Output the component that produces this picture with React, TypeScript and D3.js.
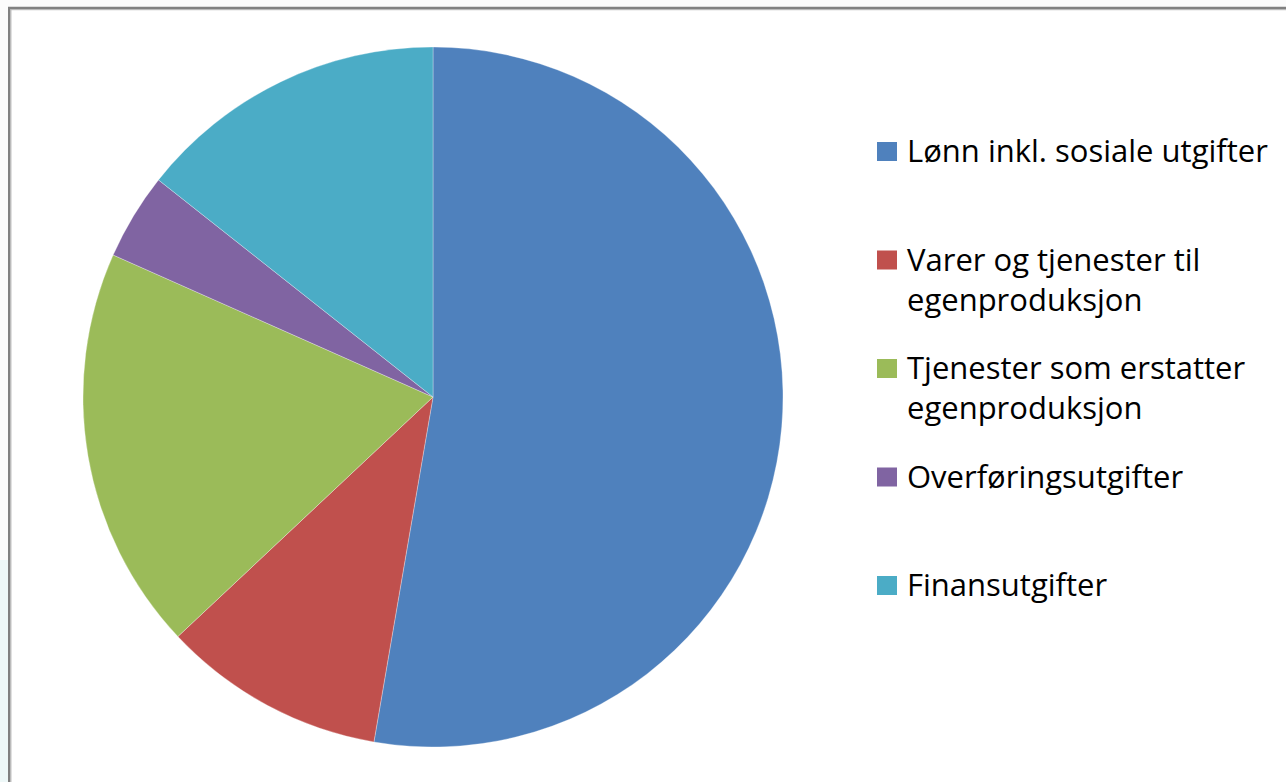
import React from "react";
import * as d3 from "d3";

// share of expenses (percent)
const categories = [
  "Lønn inkl. sosiale utgifter",
  "Varer og tjenester til egenproduksjon",
  "Tjenester som erstatter egenproduksjon",
  "Overføringsutgifter",
  "Finansutgifter"
];
const values = [52.7, 10.3, 18.65, 4.0, 14.35];
// legend text as it wraps in the picture
const legendLines = [
  ["Lønn inkl. sosiale utgifter"],
  ["Varer og tjenester til", "egenproduksjon"],
  ["Tjenester som erstatter", "egenproduksjon"],
  ["Overføringsutgifter"],
  ["Finansutgifter"]
];
const colors = ["#4F81BD", "#C0504D", "#9BBB59", "#8064A2", "#4BACC6"];

const W = 1286;
const H = 782;
const cx = 433;
const cy = 397;
const radius = 350;

export default function App() {
  const pie = d3
    .pie<number>()
    .sort(null)
    .value(d => d);
  const arcs = pie(values);
  const arc = d3
    .arc<d3.PieArcDatum<number>>()
    .innerRadius(0)
    .outerRadius(radius);

  const color = d3.scaleOrdinal<string, string>().domain(categories).range(colors);

  // legend rows (baseline of first line)
  const legendY = d3
    .scaleLinear()
    .domain([0, categories.length - 1])
    .range([162, 596]);
  const lineH = 40;

  return (
    <svg
      width={W}
      height={H}
      style={{ position: "absolute", left: 0, top: 0 }}
      fontFamily="'Open Sans', sans-serif"
    >
      <rect x={0} y={0} width={W} height={H} fill="#fbfbfb" />
      <rect x={0} y={560} width={8} height={H - 560} fill="#eef8f8" />
      <rect x={8} y={7} width={W} height={H} fill="#ffffff" />
      <line x1={8} y1={8} x2={W} y2={8} stroke="#808080" strokeWidth={2.4} />
      <line x1={9.2} y1={7} x2={9.2} y2={H} stroke="#808080" strokeWidth={2.4} />
      <line x1={10.5} y1={9.7} x2={W} y2={9.7} stroke="#b0b0b0" strokeWidth={1} />
      <line x1={10.9} y1={9.7} x2={10.9} y2={H} stroke="#b0b0b0" strokeWidth={1} />

      <g transform={`translate(${cx},${cy})`}>
        {arcs.map((a, i) => (
          <path
            key={categories[i]}
            d={arc(a) || ""}
            fill={color(categories[i])}
            stroke="#ffffff"
            strokeOpacity={0.5}
            strokeWidth={0.6}
          />
        ))}
      </g>

      <g>
        {categories.map((c, i) => {
          const y = legendY(i);
          return (
            <g key={c}>
              <rect x={877} y={y - 20} width={20} height={19} fill={color(c)} />
              <text x={907} y={y} fontSize={31} fill="#000">
                {legendLines[i].map((l, j) => (
                  <tspan key={j} x={907} dy={j === 0 ? 0 : lineH}>
                    {l}
                  </tspan>
                ))}
              </text>
            </g>
          );
        })}
      </g>
    </svg>
  );
}
